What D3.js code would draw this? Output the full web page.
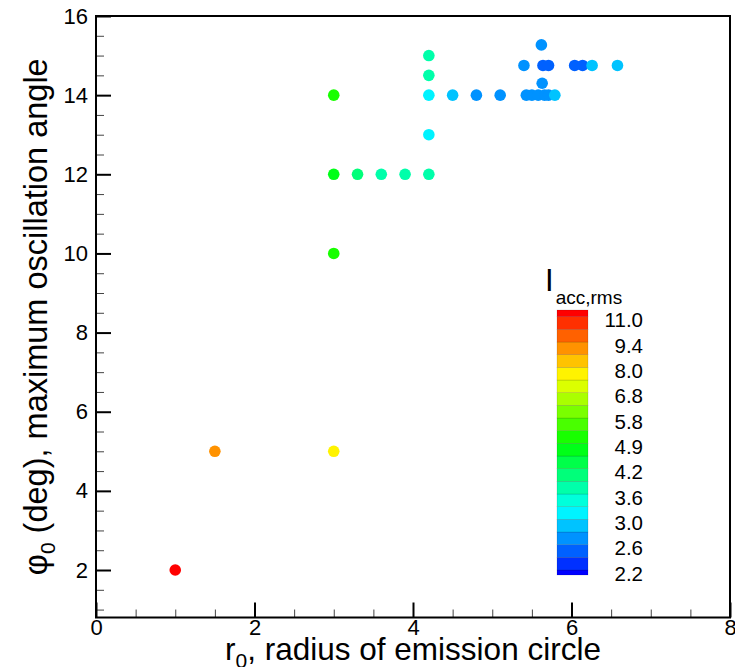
<!DOCTYPE html>
<html>
<head>
<meta charset="utf-8">
<script src="https://cdn.jsdelivr.net/npm/d3@7"></script>
<style>
  html, body { margin: 0; padding: 0; background: #fff; }
  svg { display: block; font-family: "Liberation Sans", Arial, sans-serif; }
  .tick text { font-size: 22px; fill: #000; }
</style>
</head>
<body>
<div id="chart"></div>
<script>
// r0, phi0, I_acc,rms
const radius = [1, 1.5, 3, 3, 3, 3.3, 3.6, 3.9, 4.2, 3, 4.2, 4.2, 4.2, 4.2,
  4.5, 4.8, 5.1, 5.43, 5.5, 5.58, 5.66, 5.71, 5.79, 5.63, 5.62,
  5.4, 5.64, 5.71, 6.04, 6.14, 6.26, 6.58];
const angle = [2, 5, 5, 10, 12, 12, 12, 12, 12, 14, 13, 14, 14.5, 15,
  14, 14, 14, 14, 14, 14, 14, 14, 14, 14.3, 15.27,
  14.75, 14.75, 14.75, 14.75, 14.75, 14.75, 14.75];
const iacc = [11.3, 9.0, 7.7, 5.1, 4.6, 4.0, 3.7, 3.75, 3.7, 5.0, 3.1, 3.1, 3.7, 3.7,
  2.9, 2.7, 2.7, 2.7, 2.7, 2.7, 2.7, 2.7, 2.9, 2.7, 2.7,
  2.7, 2.5, 2.5, 2.5, 2.5, 2.9, 2.9];

// contour levels of the legend (bottom to top), labelled every second level
const levels = [2.2, 2.4, 2.6, 2.8, 3.0, 3.3, 3.6, 3.9, 4.2, 4.5, 4.9,
  5.3, 5.8, 6.3, 6.8, 7.4, 8.0, 8.7, 9.4, 10.2, 11.0];
const bandColors = ['#0000ff', '#0030ff', '#0061ff', '#0092ff', '#00c3ff', '#00f3ff',
  '#00ffdb', '#00ffaa', '#00ff7a', '#00ff49', '#00ff18', '#18ff00', '#49ff00',
  '#7aff00', '#aaff00', '#dbff00', '#fff300', '#ffc300', '#ff9200', '#ff6100',
  '#ff3000', '#ff0000'];

const xTicks = [0, 2, 4, 6, 8];
const yTicks = [2, 4, 6, 8, 10, 12, 14, 16];

const W = 735, H = 667;
const PLOT = { left: 96, right: 730, top: 16, bottom: 617.5 };

const svg = d3.select('#chart').append('svg')
  .attr('width', W).attr('height', H);

const x = d3.scaleLinear().domain([0, 8]).range([PLOT.left, PLOT.right]);
const y = d3.scaleLinear().domain([0.8, 16]).range([PLOT.bottom, PLOT.top]);
const color = d3.scaleThreshold().domain(levels).range(bandColors);

// minor ticks every 0.5
const xMinor = d3.range(0, 8.01, 0.5).filter(v => !xTicks.includes(v));
const yMinor = d3.range(1, 16.01, 0.5).filter(v => !yTicks.includes(v));

svg.append('g')
  .attr('transform', `translate(0,${PLOT.bottom})`)
  .call(d3.axisBottom(x).tickValues(xMinor).tickSize(-8).tickFormat(''))
  .call(g => g.select('.domain').remove())
  .call(g => g.selectAll('line').attr('stroke', '#444').attr('stroke-width', 1));

svg.append('g')
  .attr('transform', `translate(${PLOT.left},0)`)
  .call(d3.axisLeft(y).tickValues(yMinor).tickSize(-8).tickFormat(''))
  .call(g => g.select('.domain').remove())
  .call(g => g.selectAll('line').attr('stroke', '#444').attr('stroke-width', 1));

svg.append('g')
  .attr('transform', `translate(0,${PLOT.bottom})`)
  .call(d3.axisBottom(x).tickValues(xTicks).tickSize(-15).tickPadding(2).tickFormat(d3.format('d')))
  .call(g => g.select('.domain').remove())
  .call(g => g.selectAll('line').attr('stroke', '#000').attr('stroke-width', 2))
  .call(g => g.selectAll('text').attr('dy', '0.7em'));

svg.append('g')
  .attr('transform', `translate(${PLOT.left},0)`)
  .call(d3.axisLeft(y).tickValues(yTicks).tickSize(-15).tickPadding(8).tickFormat(d3.format('d')))
  .call(g => g.select('.domain').remove())
  .call(g => g.selectAll('line').attr('stroke', '#000').attr('stroke-width', 2));

// frame
svg.append('rect')
  .attr('x', PLOT.left).attr('y', PLOT.top)
  .attr('width', PLOT.right - PLOT.left).attr('height', PLOT.bottom - PLOT.top)
  .attr('fill', 'none').attr('stroke', '#000').attr('stroke-width', 2);

// points
svg.append('g').selectAll('circle')
  .data(radius.map((r, i) => ({ r, a: angle[i], v: iacc[i] })))
  .join('circle')
    .attr('cx', d => x(d.r))
    .attr('cy', d => y(d.a))
    .attr('r', 5.8)
    .attr('fill', d => color(d.v));

// legend
const LEG = { x: 557, w: 31, top: 310, bottom: 575 };
const ly = d3.scaleLinear().domain([0, levels.length - 1]).range([570, 316.7]);
const legend = svg.append('g');
bandColors.forEach((c, i) => {
  const y0 = i === 0 ? LEG.bottom : ly(i - 1);
  const y1 = i === bandColors.length - 1 ? LEG.top : ly(i);
  legend.append('rect')
    .attr('x', LEG.x).attr('y', y1)
    .attr('width', LEG.w).attr('height', y0 - y1)
    .attr('fill', c)
    .attr('stroke', 'rgba(0,0,0,0.2)').attr('stroke-width', 0.6);
});
levels.forEach((v, i) => {
  if (i % 2) return;
  legend.append('text')
    .attr('x', 643).attr('y', ly(i) + 3)
    .attr('text-anchor', 'end').attr('dominant-baseline', 'central')
    .attr('font-size', 20.5)
    .text(d3.format('.1f')(v));
});
const lt = legend.append('text').attr('x', 545).attr('y', 291).attr('font-size', 31);
lt.append('tspan').text('I');
lt.append('tspan').attr('font-size', 19).attr('dy', 13).attr('dx', 2).text('acc,rms');

// axis titles
const xt = svg.append('text')
  .attr('x', (PLOT.left + PLOT.right) / 2).attr('y', 660)
  .attr('text-anchor', 'middle').attr('font-size', 31.5);
xt.append('tspan').text('r');
xt.append('tspan').attr('font-size', 21).attr('dy', 8).text('0');
xt.append('tspan').attr('dy', -8).text(', radius of emission circle');

const yt = svg.append('text')
  .attr('transform', `translate(47,${(PLOT.top + PLOT.bottom) / 2}) rotate(-90)`)
  .attr('text-anchor', 'middle').attr('font-size', 32.5);
yt.append('tspan').text('φ');
yt.append('tspan').attr('font-size', 21).attr('dy', 8).text('0');
yt.append('tspan').attr('dy', -8).text(' (deg), maximum oscillation angle');
</script>
</body>
</html>
